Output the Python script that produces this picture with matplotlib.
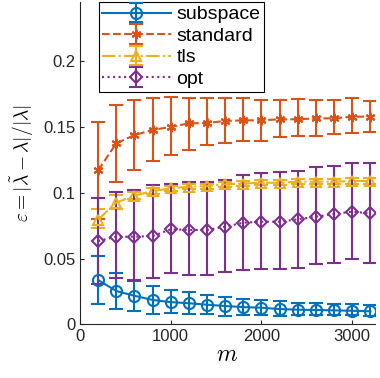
import numpy as np
import matplotlib
matplotlib.use('Agg')
import matplotlib.pyplot as plt

plt.rcParams['font.family'] = ['Liberation Sans', 'DejaVu Sans']
plt.rcParams['mathtext.fontset'] = 'cm'

m = [200, 400, 600, 800, 1000, 1200, 1400, 1600, 1800, 2000, 2200, 2400, 2600, 2800, 3000, 3200]

# subspace: mean, bar bottom, bar top
sub_mean = [0.0337, 0.0253, 0.0217, 0.0185, 0.0169, 0.0160, 0.0149, 0.0139, 0.0131, 0.0126, 0.0116, 0.0111, 0.0109, 0.0106, 0.0103, 0.0099]
sub_lo = [0.0154, 0.0114, 0.0103, 0.0078, 0.0088, 0.0080, 0.0080, 0.0065, 0.0070, 0.0070, 0.0065, 0.0070, 0.0070, 0.0070, 0.0068, 0.0065]
sub_hi = [0.0520, 0.0392, 0.0330, 0.0290, 0.0260, 0.0245, 0.0220, 0.0205, 0.0195, 0.0185, 0.0180, 0.0165, 0.0165, 0.0155, 0.0155, 0.0145]

std_mean = [0.1170, 0.1375, 0.1438, 0.1477, 0.1500, 0.1527, 0.1530, 0.1545, 0.1550, 0.1550, 0.1558, 0.1558, 0.1565, 0.1565, 0.1578, 0.1578]
std_lo = [0.0800, 0.1080, 0.1170, 0.1243, 0.1290, 0.1325, 0.1360, 0.1375, 0.1395, 0.1395, 0.1420, 0.1430, 0.1430, 0.1446, 0.1450, 0.1464]
std_hi = [0.1540, 0.1666, 0.1704, 0.1717, 0.1725, 0.1722, 0.1717, 0.1720, 0.1717, 0.1704, 0.1704, 0.1710, 0.1704, 0.1704, 0.1717, 0.1700]

tls_mean = [0.0795, 0.0925, 0.0978, 0.1013, 0.1033, 0.1046, 0.1050, 0.1064, 0.1070, 0.1076, 0.1076, 0.1084, 0.1084, 0.1084, 0.1089, 0.1089]
tls_lo = [0.0730, 0.0880, 0.0950, 0.0990, 0.1012, 0.1026, 0.1030, 0.1044, 0.1050, 0.1056, 0.1056, 0.1064, 0.1064, 0.1064, 0.1069, 0.1069]
tls_hi = [0.0880, 0.0985, 0.1005, 0.1035, 0.1054, 0.1066, 0.1070, 0.1084, 0.1090, 0.1096, 0.1096, 0.1104, 0.1104, 0.1104, 0.1109, 0.1109]

opt_mean = [0.0633, 0.0666, 0.0666, 0.0670, 0.0722, 0.0717, 0.0717, 0.0742, 0.0772, 0.0780, 0.0780, 0.0798, 0.0818, 0.0838, 0.0856, 0.0843]
opt_lo = [0.0310, 0.0350, 0.0337, 0.0350, 0.0390, 0.0375, 0.0375, 0.0400, 0.0413, 0.0418, 0.0418, 0.0425, 0.0456, 0.0463, 0.0494, 0.0468]
opt_hi = [0.0957, 0.1008, 0.1020, 0.1058, 0.1070, 0.1080, 0.1080, 0.1100, 0.1134, 0.1147, 0.1160, 0.1167, 0.1193, 0.1203, 0.1228, 0.1228]

series = [
    ('subspace', sub_mean, sub_lo, sub_hi, '#0072BD', '-', 'o', 8),
    ('standard', std_mean, std_lo, std_hi, '#D95319', '--', (6, 2, 0), 7),
    ('tls', tls_mean, tls_lo, tls_hi, '#EDB120', '-.', '^', 7),
    ('opt', opt_mean, opt_lo, opt_hi, '#7E2F8E', ':', 'D', 6),
]

fig = plt.figure(figsize=(3.8, 3.78), dpi=100)
ax = fig.add_axes([0.2105, 0.142, 0.776, 0.853])

for name, mean, lo, hi, col, ls, mk, ms in series:
    mean = np.array(mean)
    yerr = [mean - np.array(lo), np.array(hi) - mean]
    ax.errorbar(m, mean, yerr=yerr, color=col, ls=ls, lw=1.5, marker=mk,
                ms=ms, mfc='none', mec=col, mew=1.5, capsize=5, capthick=1.5,
                elinewidth=1.5, label=name)

ax.set_xlim(0, 3250)
ax.set_ylim(0, 0.245)
ax.set_xticks([0, 1000, 2000, 3000])
ax.set_yticks([0, 0.05, 0.1, 0.15, 0.2])
ax.set_yticklabels(['0', '0.05', '0.1', '0.15', '0.2'])
ax.tick_params(direction='in', labelsize=12, length=3, colors='#262626')
ax.spines['top'].set_visible(False)
ax.spines['right'].set_visible(False)
for s in ['left', 'bottom']:
    ax.spines[s].set_color('#262626')
    ax.spines[s].set_linewidth(0.8)

ax.set_xlabel(r'$m$', fontsize=17, labelpad=0)
ax.set_ylabel(r'$\varepsilon = |\tilde{\lambda} - \lambda|/|\lambda|$', fontsize=14, labelpad=5)

leg = ax.legend(loc='upper left', bbox_to_anchor=(0.063, 1.0), fontsize=14,
                fancybox=False, framealpha=1, edgecolor='black',
                handlelength=3.5, labelspacing=0.2, borderpad=0.2,
                handletextpad=0.3, borderaxespad=0)
leg.get_frame().set_linewidth(0.8)

fig.savefig('out.png', dpi=100)
